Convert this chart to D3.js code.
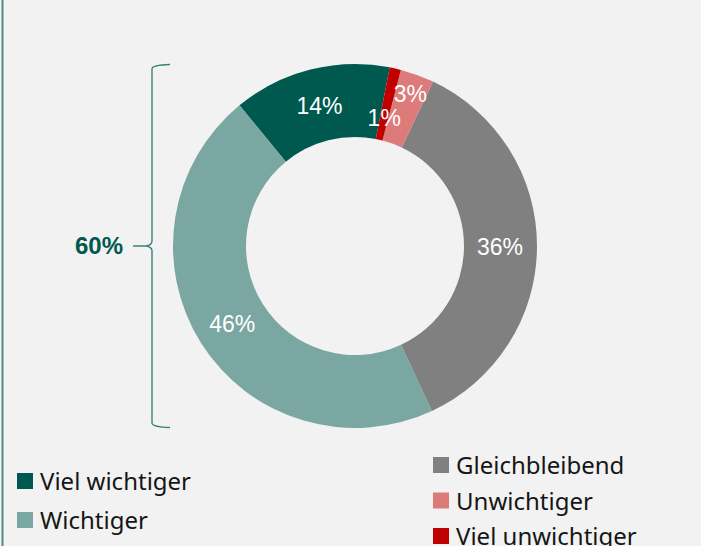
<!DOCTYPE html>
<html>
<head>
<meta charset="utf-8">
<script src="https://cdn.jsdelivr.net/npm/d3@7"></script>
<style>
  body { margin: 0; background: #f2f2f2; }
  svg { display: block; }
</style>
</head>
<body>
<div id="chart"></div>
<script>
// data, in Excel order (drawn counter-clockwise from the start angle)
var categories = ["Viel wichtiger", "Wichtiger", "Gleichbleibend", "Unwichtiger", "Viel unwichtiger"];
var values = [14, 46, 36, 3, 1];
var colorList = ["#00594f", "#7ba7a2", "#808080", "#dd7a7a", "#c00000"];
// small slices get their label pushed in/out a bit
var labelRadius = [145, 145, 145, 162, 132];
var bracketLabel = "60%";

// legend layout: left column, right column
var legendCols = [
  { x: 17, y0: 473, step: 39, items: [0, 1] },
  { x: 433, y0: 457, step: 35.5, items: [2, 3, 4] }
];

var W = 701, H = 546;
var cx = 355, cy = 246, rOuter = 182, rInner = 109;
var startAngle = 11 * Math.PI / 180;

var svg = d3.select("#chart").append("svg")
  .attr("width", W).attr("height", H);

svg.append("rect")
  .attr("width", W).attr("height", H)
  .attr("fill", "#f2f2f2");

// left frame line
svg.append("line")
  .attr("x1", 2.5).attr("x2", 2.5)
  .attr("y1", 0).attr("y2", H)
  .attr("stroke", "#4c8b83")
  .attr("stroke-width", 2);

var color = d3.scaleOrdinal().domain(categories).range(colorList);

var pie = d3.pie()
  .sort(null)
  .value(function(d) { return d.value; })
  .startAngle(startAngle)
  .endAngle(startAngle - 2 * Math.PI);

var data = categories.map(function(c, i) { return { name: c, value: values[i], idx: i }; });

var arc = d3.arc().innerRadius(rInner).outerRadius(rOuter);

var g = svg.append("g").attr("transform", "translate(" + cx + "," + cy + ")");

var arcs = pie(data);

g.selectAll("path.slice")
  .data(arcs)
  .enter()
  .append("path")
  .attr("class", "slice")
  .attr("d", arc)
  .attr("fill", function(d) { return color(d.data.name); });

g.selectAll("text.lbl")
  .data(arcs)
  .enter()
  .append("text")
  .attr("class", "lbl")
  .attr("transform", function(d) {
    var r = labelRadius[d.data.idx];
    var c = d3.arc().innerRadius(r).outerRadius(r).centroid(d);
    return "translate(" + c[0] + "," + c[1] + ")";
  })
  .attr("text-anchor", "middle")
  .attr("dy", "0.36em")
  .attr("fill", "#ffffff")
  .style("font-family", "'Liberation Sans', Arial, sans-serif")
  .style("font-size", "23px")
  .text(function(d) { return d.data.value + "%"; });

// curly bracket on the left
var bx = 152, bTop = cy - rOuter, bBot = cy + rOuter;
var bracket = "M170," + (bTop + 0.5) +
  " Q152," + (bTop + 1) + " " + bx + "," + (bTop + 5) +
  " L" + bx + "," + (cy - 5) +
  " Q" + bx + "," + (cy - 1) + " 146," + cy +
  " L133," + cy +
  " M146," + cy +
  " Q" + bx + "," + (cy + 1) + " " + bx + "," + (cy + 5) +
  " L" + bx + "," + (bBot - 5) +
  " Q152," + (bBot - 1) + " 170," + (bBot - 0.5);

svg.append("path")
  .attr("d", bracket)
  .attr("fill", "none")
  .attr("stroke", "#3f8179")
  .attr("stroke-width", 1.4);

svg.append("text")
  .attr("x", 123).attr("y", cy + 8)
  .attr("text-anchor", "end")
  .attr("fill", "#00594f")
  .style("font-family", "'Liberation Sans', Arial, sans-serif")
  .style("font-weight", "bold")
  .style("font-size", "24px")
  .text(bracketLabel);

// legend
legendCols.forEach(function(col) {
  var lg = svg.append("g");
  col.items.forEach(function(idx, k) {
    var y = col.y0 + k * col.step;
    lg.append("rect")
      .attr("x", col.x).attr("y", y)
      .attr("width", 16).attr("height", 16)
      .attr("fill", colorList[idx]);
    lg.append("text")
      .attr("x", col.x + 23).attr("y", y + 17)
      .attr("fill", "#161616")
      .style("font-family", "'Noto Sans', sans-serif")
      .style("font-size", "24px")
      .text(categories[idx]);
  });
});
</script>
</body>
</html>
